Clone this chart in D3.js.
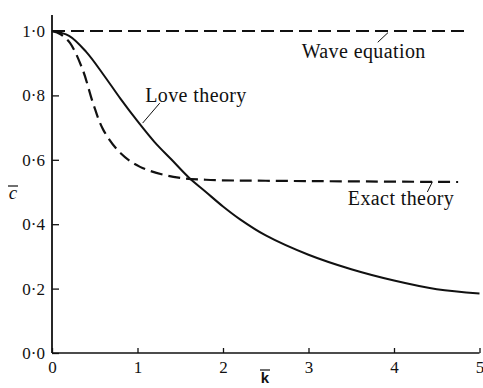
<!DOCTYPE html>
<html>
<head>
<meta charset="utf-8">
<script src="https://cdn.jsdelivr.net/npm/d3@7"></script>
<style>
  html, body { margin: 0; padding: 0; background: #fff; }
  svg { display: block; }
</style>
</head>
<body>
<svg id="chart" width="483" height="388"></svg>
<script>
// Dimensionless wavenumber k̄ against phase velocity c̄
const loveK = [0, 0.2, 0.4, 0.6, 0.8, 1.0, 1.2, 1.4, 1.6, 1.8, 2.0, 2.2, 2.5, 3.0, 3.5, 4.0, 4.5, 5.0];
const loveC = [1.0, 0.985, 0.935, 0.865, 0.79, 0.72, 0.655, 0.60, 0.545, 0.50, 0.455, 0.415, 0.365, 0.305, 0.26, 0.225, 0.198, 0.185];

const exactK = [0, 0.1, 0.21, 0.36, 0.48, 0.60, 0.80, 1.03, 1.42, 1.8, 2.5, 3.5, 4.75];
const exactC = [1.0, 0.99, 0.963, 0.879, 0.776, 0.693, 0.621, 0.578, 0.547, 0.538, 0.535, 0.533, 0.531];

const waveK = [0, 4.86];
const waveC = [1.0, 1.0];

const xTicks = [0, 1, 2, 3, 4, 5];
const yTicks = [0, 0.2, 0.4, 0.6, 0.8, 1.0];

// Curve labels: text anchor point and leader line (from, to) in data units
const labelNames = ["Wave equation", "Love theory", "Exact theory"];
const labelAt = [[2.92, 0.915], [1.09, 0.78], [3.46, 0.46]];
const leaderFrom = [[3.81, 0.965], [1.06, 0.714], [4.39, 0.50]];
const leaderTo = [[3.93, 0.995], [1.26, 0.776], [4.45, 0.532]];

const SERIF = "'Liberation Serif', 'Times New Roman', Times, 'DejaVu Serif', serif";
const INK = "#111";

const svg = d3.select("#chart");
const x = d3.scaleLinear().domain([0, 5]).range([52, 479.5]);
const y = d3.scaleLinear().domain([0, 1]).range([353, 31]);

const fmt = v => d3.format(".1f")(v).replace(".", "\u00b7");

// Axes: ticks point inward
const yAxis = d3.axisLeft(y).tickValues(yTicks).tickFormat(fmt)
  .tickSizeInner(-7).tickSizeOuter(0).tickPadding(7);
const gy = svg.append("g").attr("transform", `translate(${x(0)},0)`).call(yAxis);
gy.select(".domain").remove();
gy.selectAll("line").attr("stroke", INK).attr("stroke-width", 1.3);
gy.selectAll("text").style("font-family", SERIF).style("font-size", "17px").attr("fill", INK);

const xAxis = d3.axisBottom(x).tickValues(xTicks).tickFormat(d3.format("d"))
  .tickSizeInner(-5).tickSizeOuter(0).tickPadding(6);
const gx = svg.append("g").attr("transform", `translate(0,${y(0)})`).call(xAxis);
gx.select(".domain").remove();
gx.selectAll("line").attr("stroke", INK).attr("stroke-width", 1.3);
gx.selectAll("text").style("font-family", SERIF).style("font-size", "17px")
  .attr("fill", INK).attr("dy", "0.85em");

// Axis lines
svg.append("line").attr("x1", x(0)).attr("x2", x(0)).attr("y1", y(0)).attr("y2", y(1.05))
  .attr("stroke", INK).attr("stroke-width", 1.8);
svg.append("line").attr("x1", x(0)).attr("x2", x(5)).attr("y1", y(0)).attr("y2", y(0))
  .attr("stroke", INK).attr("stroke-width", 1.6);

// Axis titles (with overbars)
svg.append("text").attr("x", 13).attr("y", 199).attr("fill", INK)
  .style("font-family", SERIF).style("font-size", "19px").style("font-style", "italic")
  .attr("text-anchor", "middle").text("c");
svg.append("line").attr("x1", 8).attr("x2", 18).attr("y1", 186).attr("y2", 186)
  .attr("stroke", INK).attr("stroke-width", 1.2);
svg.append("text").attr("x", 265).attr("y", 383).attr("fill", INK)
  .style("font-family", "'Liberation Sans', Arial, sans-serif").style("font-size", "15px")
  .style("font-weight", "bold").attr("text-anchor", "middle").text("k");
svg.append("line").attr("x1", 260).attr("x2", 270).attr("y1", 370).attr("y2", 370)
  .attr("stroke", INK).attr("stroke-width", 1.2);

// Curves
const line = d3.line().x(d => x(d[0])).y(d => y(d[1])).curve(d3.curveCatmullRom.alpha(0.5));
const zip = (a, b) => a.map((v, i) => [v, b[i]]);

svg.append("path").datum(zip(waveK, waveC)).attr("d", line)
  .attr("fill", "none").attr("stroke", INK).attr("stroke-width", 2.2)
  .attr("stroke-dasharray", "13,6");
svg.append("path").datum(zip(exactK, exactC)).attr("d", line)
  .attr("fill", "none").attr("stroke", INK).attr("stroke-width", 2.2)
  .attr("stroke-dasharray", "12,6");
svg.append("path").datum(zip(loveK, loveC)).attr("d", line)
  .attr("fill", "none").attr("stroke", INK).attr("stroke-width", 2);

// Curve labels with leader lines
labelNames.forEach((name, i) => {
  svg.append("text").attr("x", x(labelAt[i][0])).attr("y", y(labelAt[i][1]))
    .attr("fill", INK).style("font-family", SERIF).style("font-size", "20px")
    .style("letter-spacing", "0.4px").text(name);
  svg.append("line")
    .attr("x1", x(leaderFrom[i][0])).attr("y1", y(leaderFrom[i][1]))
    .attr("x2", x(leaderTo[i][0])).attr("y2", y(leaderTo[i][1]))
    .attr("stroke", INK).attr("stroke-width", 1);
});
</script>
</body>
</html>
